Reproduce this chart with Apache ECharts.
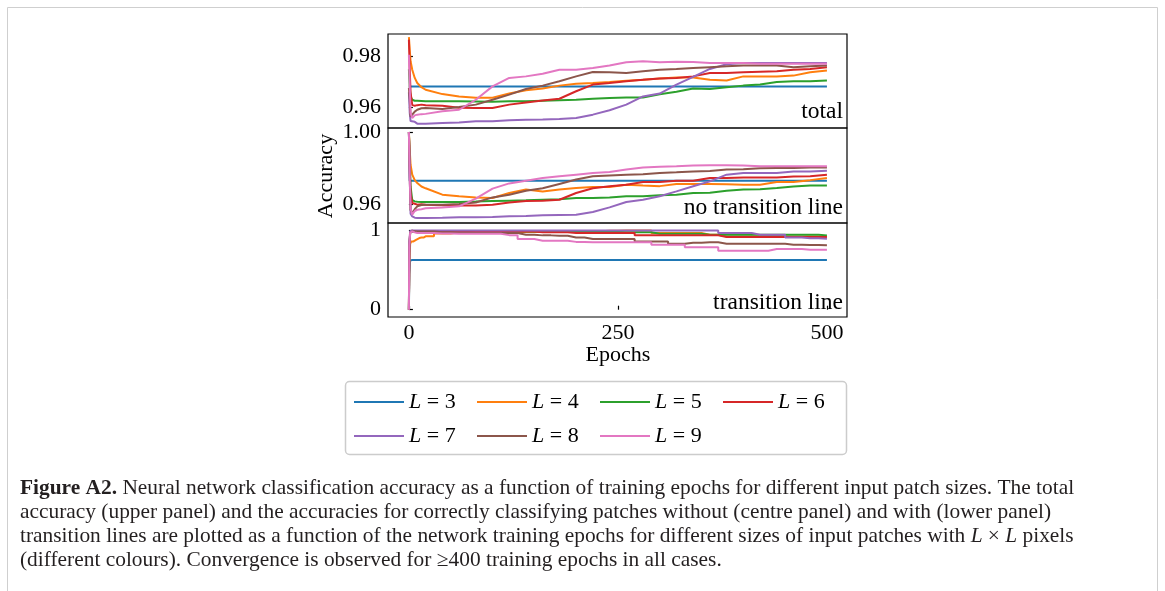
<!DOCTYPE html>
<html><head><meta charset="utf-8">
<script src="https://cdn.jsdelivr.net/npm/echarts@6/dist/echarts.min.js"></script>
<style>html,body{margin:0;padding:0;background:#fff;}#c{width:1165px;height:591px;}</style>
</head><body><div id="c"></div>
<script>
// ---------- data ----------
const epochs = [0,1,2,4,7,10,15,20,40,60,80,100,120,140,160,180,200,220,240,260,280,300,320,340,360,380,400,420,440,460,480,500];
const seriesNames = ['L = 3','L = 4','L = 5','L = 6','L = 7','L = 8','L = 9'];
const colors = ['#1f77b4','#ff7f0e','#2ca02c','#d62728','#9467bd','#8c564b','#e377c2'];

// upper panel: total accuracy
const totalL3 = [0.9683,0.9683,0.9683,0.9683,0.9683,0.9683,0.9683,0.9683,0.9683,0.9683,0.9683,0.9683,0.9683,0.9683,0.9683,0.9683,0.9683,0.9683,0.9683,0.9683,0.9683,0.9683,0.9683,0.9683,0.9683,0.9683,0.9683,0.9683,0.9683,0.9683,0.9683,0.9683];
const totalL4 = [0.9875,0.9826,0.9781,0.9748,0.9716,0.9696,0.9680,0.9670,0.9653,0.9644,0.9639,0.9639,0.9655,0.9668,0.9675,0.9686,0.9693,0.9696,0.9700,0.9705,0.9709,0.9714,0.9718,0.9718,0.9709,0.9706,0.9722,0.9722,0.9722,0.9725,0.9738,0.9745];
const totalL5 = [0.9750,0.9680,0.9644,0.9631,0.9627,0.9627,0.9626,0.9625,0.9625,0.9625,0.9624,0.9623,0.9625,0.9625,0.9627,0.9629,0.9631,0.9635,0.9638,0.9640,0.9640,0.9652,0.9662,0.9675,0.9673,0.9680,0.9686,0.9690,0.9700,0.9703,0.9703,0.9706];
const totalL6 = [0.9865,0.9750,0.9660,0.9610,0.9608,0.9610,0.9612,0.9610,0.9608,0.9600,0.9599,0.9599,0.9612,0.9620,0.9628,0.9635,0.9664,0.9690,0.9696,0.9703,0.9709,0.9714,0.9716,0.9722,0.9735,0.9735,0.9738,0.9740,0.9742,0.9748,0.9751,0.9758];
const totalL7 = [0.9660,0.9580,0.9548,0.9553,0.9545,0.9538,0.9538,0.9538,0.9540,0.9542,0.9547,0.9547,0.9551,0.9553,0.9554,0.9556,0.9560,0.9573,0.9590,0.9612,0.9644,0.9655,0.9690,0.9720,0.9751,0.9769,0.9774,0.9774,0.9774,0.9774,0.9774,0.9774];
const totalL8 = [0.9677,0.9630,0.9565,0.9565,0.9585,0.9592,0.9598,0.9599,0.9595,0.9603,0.9612,0.9631,0.9651,0.9673,0.9686,0.9703,0.9722,0.9739,0.9738,0.9735,0.9742,0.9748,0.9751,0.9755,0.9758,0.9761,0.9764,0.9764,0.9764,0.9758,0.9761,0.9764];
const totalL9 = [0.9806,0.9680,0.9580,0.9560,0.9570,0.9573,0.9575,0.9576,0.9586,0.9592,0.9631,0.9683,0.9716,0.9722,0.9732,0.9748,0.9748,0.9755,0.9764,0.9777,0.9781,0.9777,0.9779,0.9778,0.9774,0.9774,0.9774,0.9771,0.9771,0.9771,0.9771,0.9771];

// centre panel: no transition line
const noLineL3 = [1.0,0.9732,0.9732,0.9732,0.9732,0.9732,0.9732,0.9732,0.9732,0.9732,0.9732,0.9732,0.9732,0.9732,0.9732,0.9732,0.9732,0.9732,0.9732,0.9732,0.9732,0.9732,0.9732,0.9732,0.9732,0.9732,0.9732,0.9732,0.9732,0.9732,0.9732,0.9732];
const noLineL4 = [1.0,0.9900,0.9820,0.9765,0.9735,0.9719,0.9700,0.9690,0.9655,0.9646,0.9640,0.9637,0.9664,0.9683,0.9673,0.9683,0.9692,0.9697,0.9697,0.9710,0.9705,0.9702,0.9714,0.9714,0.9714,0.9712,0.9710,0.9710,0.9725,0.9725,0.9735,0.9747];
const noLineL5 = [1.0,0.9850,0.9700,0.9625,0.9618,0.9616,0.9615,0.9615,0.9615,0.9615,0.9617,0.9620,0.9622,0.9624,0.9627,0.9630,0.9637,0.9637,0.9640,0.9646,0.9646,0.9652,0.9655,0.9664,0.9666,0.9677,0.9683,0.9685,0.9692,0.9700,0.9705,0.9706];
const noLineL6 = [1.0,0.9820,0.9660,0.9609,0.9605,0.9600,0.9602,0.9600,0.9597,0.9596,0.9596,0.9600,0.9612,0.9620,0.9622,0.9627,0.9664,0.9690,0.9701,0.9710,0.9725,0.9725,0.9732,0.9732,0.9747,0.9747,0.9750,0.9750,0.9750,0.9755,0.9756,0.9765];
const noLineL7 = [1.0,0.9750,0.9550,0.9535,0.9528,0.9527,0.9527,0.9527,0.9528,0.9530,0.9530,0.9532,0.9536,0.9538,0.9541,0.9543,0.9545,0.9560,0.9585,0.9615,0.9627,0.9646,0.9673,0.9701,0.9728,0.9765,0.9774,0.9774,0.9774,0.9783,0.9783,0.9787];
const noLineL8 = [1.0,0.9750,0.9570,0.9554,0.9575,0.9591,0.9598,0.9600,0.9600,0.9604,0.9612,0.9640,0.9655,0.9677,0.9690,0.9714,0.9738,0.9756,0.9761,0.9765,0.9767,0.9774,0.9778,0.9783,0.9785,0.9793,0.9795,0.9800,0.9802,0.9802,0.9805,0.9805];
const noLineL9 = [1.0,0.9750,0.9580,0.9545,0.9565,0.9572,0.9575,0.9580,0.9584,0.9591,0.9633,0.9688,0.9717,0.9732,0.9747,0.9756,0.9765,0.9774,0.9780,0.9793,0.9805,0.9808,0.9811,0.9815,0.9817,0.9817,0.9815,0.9811,0.9811,0.9811,0.9811,0.9811];

// lower panel: transition line
const lineL3 = [0,0.45,0.62,0.626,0.626,0.626,0.626,0.626,0.626,0.626,0.626,0.626,0.626,0.626,0.626,0.626,0.626,0.626,0.626,0.626,0.626,0.626,0.626,0.626,0.626,0.626,0.626,0.626,0.626,0.626,0.626,0.626];
const lineL4 = [0,0.6,0.83,0.861,0.88,0.903,0.91,0.925,0.962,0.975,0.975,0.975,0.978,0.98,0.983,0.987,0.99,0.99,0.995,1.0,1.0,0.966,0.966,0.966,0.945,0.924,0.924,0.924,0.924,0.924,0.924,0.92];
const lineL5 = [0,0.8,0.97,0.987,0.987,0.987,0.987,0.987,0.987,0.987,0.987,0.987,0.987,0.987,0.987,0.983,0.979,0.979,0.979,0.975,0.975,0.958,0.958,0.958,0.945,0.945,0.945,0.945,0.945,0.945,0.945,0.937];
const lineL6 = [0,0.8,0.98,0.996,0.99,0.99,0.987,0.987,0.987,0.987,0.987,0.987,0.987,0.987,0.975,0.975,0.966,0.966,0.966,0.966,0.937,0.937,0.937,0.937,0.937,0.916,0.916,0.916,0.916,0.916,0.916,0.916];
const lineL7 = [0,0.85,0.99,1.0,1.0,1.0,1.0,1.0,1.0,1.0,1.0,1.0,1.0,1.0,1.0,1.0,1.0,1.0,1.0,1.0,1.0,1.0,1.0,1.0,1.0,0.966,0.966,0.945,0.945,0.91,0.9,0.895];
const lineL8 = [0,0.7,0.97,0.987,0.99,0.987,0.985,0.985,0.975,0.97,0.966,0.966,0.966,0.945,0.937,0.933,0.91,0.89,0.89,0.891,0.861,0.861,0.832,0.845,0.849,0.832,0.832,0.832,0.832,0.82,0.815,0.811];
const lineL9 = [0,0.8,0.97,0.987,0.975,0.966,0.966,0.966,0.962,0.958,0.958,0.958,0.94,0.891,0.87,0.87,0.855,0.849,0.849,0.849,0.849,0.819,0.819,0.786,0.786,0.744,0.744,0.744,0.765,0.765,0.756,0.756];

const xTicks = [0,250,500];
const yTicksTotal = [0.96,0.98];
const yTicksNoLine = [0.96,1.00];
const yTicksLine = [0,1];
const panelLabels = ['total','no transition line','transition line'];
const xLabel = 'Epochs';
const yLabel = 'Accuracy';
const captionLines = [
  '{b|Figure A2.} Neural network classification accuracy as a function of training epochs for different input patch sizes. The total',
  'accuracy (upper panel) and the accuracies for correctly classifying patches without (centre panel) and with (lower panel)',
  'transition lines are plotted as a function of the network training epochs for different sizes of input patches with {i|L} × {i|L} pixels',
  '(different colours). Convergence is observed for \u2265400 training epochs in all cases.'
];

// ---------- chart ----------
const FONT = 'Liberation Serif, DejaVu Serif, serif';
const CAP = 21.4;
const panels = [
  {data:[totalL3,totalL4,totalL5,totalL6,totalL7,totalL8,totalL9], ticks:yTicksTotal, min:0.9521, max:0.9887, top:34, height:94, dec:2, step:false},
  {data:[noLineL3,noLineL4,noLineL5,noLineL6,noLineL7,noLineL8,noLineL9], ticks:yTicksNoLine, min:0.9499, max:1.0022, top:128, height:95, dec:2, step:false},
  {data:[lineL3,lineL4,lineL5,lineL6,lineL7,lineL8,lineL9], ticks:yTicksLine, min:-0.092, max:1.093, top:223, height:94, dec:0, step:'middle'}
];
const GL = 388, GW = 459;

const grid = panels.map(p => ({left:GL, width:GW, top:p.top, height:p.height, show:true, borderColor:'#000', borderWidth:1.2, backgroundColor:'transparent'}));
const xAxis = panels.map((p,i) => ({
  type:'value', gridIndex:i, min:-25, max:524,
  axisLine:{show:false}, splitLine:{show:false},
  axisTick:{show:i===2, inside:true, length:4, customValues:xTicks, lineStyle:{color:'#000', width:1.2}},
  axisLabel:{show:i===2, customValues:xTicks, fontFamily:FONT, fontSize:22, color:'#000', margin:5}
}));
const yAxis = panels.map((p,i) => ({
  type:'value', gridIndex:i, min:p.min, max:p.max,
  axisLine:{show:false}, splitLine:{show:false},
  axisTick:{show:true, inside:true, length:4, customValues:p.ticks, lineStyle:{color:'#000', width:1.2}},
  axisLabel:{show:true, customValues:p.ticks, fontFamily:FONT, fontSize:22, color:'#000', margin:7,
    formatter: v => v.toFixed(p.dec)}
}));
const series = [];
panels.forEach((p,i) => {
  p.data.forEach((arr,k) => {
    series.push({
      type:'line', name:seriesNames[k], xAxisIndex:i, yAxisIndex:i,
      data: epochs.map((e,j) => [e, arr[j]]),
      showSymbol:false, step:p.step, animation:false,
      lineStyle:{color:colors[k], width:2}, itemStyle:{color:colors[k]},
      z: 2 + k
    });
  });
});

const graphic = [
  {type:'rect', shape:{x:7.5, y:7.5, width:1150, height:700}, style:{fill:'none', stroke:'#cfcfcf', lineWidth:1}},
  {type:'text', x:326, y:176, rotation:Math.PI/2, style:{text:yLabel, font:'22px ' + FONT, fill:'#000', textAlign:'center', textVerticalAlign:'middle'}},
  {type:'text', x:618, y:355, style:{text:xLabel, font:'22px ' + FONT, fill:'#000', textAlign:'center', textVerticalAlign:'middle'}},
  {type:'text', x:843, y:112, style:{text:panelLabels[0], font:'23.5px ' + FONT, fill:'#000', textAlign:'right', textVerticalAlign:'middle'}},
  {type:'text', x:843, y:208, style:{text:panelLabels[1], font:'23.5px ' + FONT, fill:'#000', textAlign:'right', textVerticalAlign:'middle'}},
  {type:'text', x:843, y:303, style:{text:panelLabels[2], font:'23.5px ' + FONT, fill:'#000', textAlign:'right', textVerticalAlign:'middle'}},
  {type:'rect', shape:{x:345.5, y:381.5, width:501, height:73, r:4}, style:{fill:'#fff', stroke:'#cccccc', lineWidth:1.5}, z:0}
];
const capY = [488, 512, 536, 560];
captionLines.forEach((t,i) => {
  graphic.push({type:'text', x:20, y:capY[i], style:{
    text:t, font:CAP + 'px ' + FONT, fill:'#231f20', textVerticalAlign:'middle',
    rich:{ b:{fontWeight:'bold', fontSize:CAP, fontFamily:FONT, fill:'#231f20'}, i:{fontStyle:'italic', fontSize:CAP, fontFamily:FONT, fill:'#231f20'} }
  }});
});

const chart = echarts.init(document.getElementById('c'), null, {renderer:'canvas'});
chart.setOption({
  animation:false,
  color: colors,
  grid, xAxis, yAxis, series, graphic,
  legend:{
    data: seriesNames, left:354, top:391, width:490, orient:'horizontal', padding:0,
    icon:'rect', itemWidth:50, itemHeight:2, itemGap:12, z:10,
    formatter: n => '{i|L}' + n.slice(1),
    textStyle:{fontFamily:FONT, fontSize:22, color:'#000', lineHeight:22, width:56,
      rich:{i:{fontStyle:'italic', fontFamily:FONT, fontSize:22, color:'#000'}}}
  }
});
</script></body></html>
